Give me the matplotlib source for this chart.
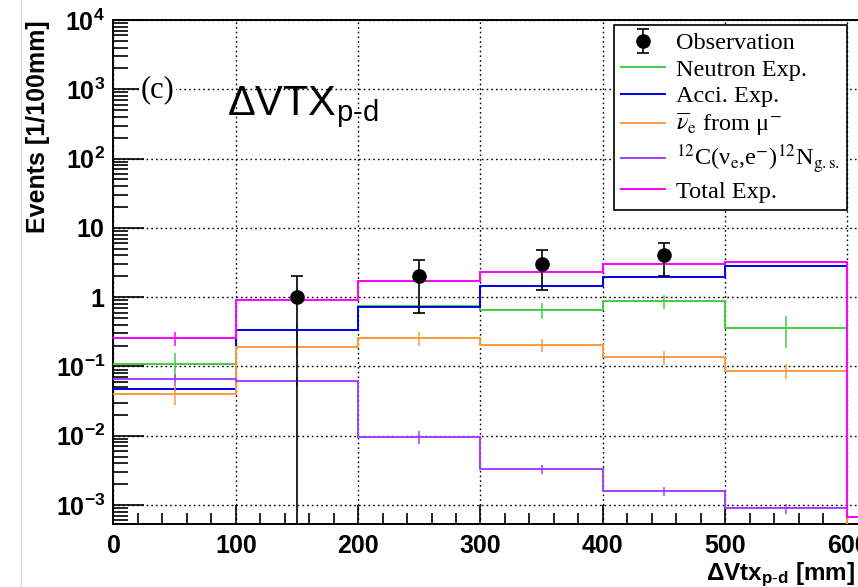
import numpy as np
import matplotlib
matplotlib.use("Agg")
import matplotlib.pyplot as plt
from matplotlib.lines import Line2D
from matplotlib.ticker import FixedLocator, FuncFormatter, MultipleLocator

plt.rcParams['mathtext.fontset'] = 'custom'
plt.rcParams['mathtext.rm'] = 'Liberation Sans'
plt.rcParams['mathtext.it'] = 'Liberation Sans:italic'
plt.rcParams['mathtext.bf'] = 'Liberation Sans:bold'

# ---------------- data ----------------
edges = [0, 100, 200, 300, 400, 500, 600]
edges_ext = [0, 100, 200, 300, 400, 500, 600, 700]

neutron = [0.108, 0.33, 0.74, 0.65, 0.885, 0.356]
neutron_err = [0.046, 0.09, 0.16, 0.17, 0.2, 0.17]
acci = [0.047, 0.33, 0.72, 1.43, 1.95, 2.78]
acci_err = [0.003, 0.01, 0.02, 0.03, 0.04, 0.05]
nue_mu = [0.040, 0.19, 0.255, 0.205, 0.137, 0.087, 0.0001]
nue_mu_err = [0.012, 0.047, 0.06, 0.045, 0.032, 0.021, 0.0]
c12 = [0.065, 0.062, 0.0095, 0.0033, 0.00159, 0.00089]
c12_err = [0.012, 0.009, 0.002, 0.0005, 0.00025, 0.00016]
total = [0.255, 0.905, 1.72, 2.27, 3.0, 3.24, 0.00066]
total_err = [0.055, 0.05, 0.06, 0.06, 0.05, 0.05, 0.0]

obs_x = [150, 250, 350, 450]
obs_y = [1, 2, 3, 4]
obs_err = [1.0, 1.41, 1.73, 2.0]

c_green = '#44cc44'
c_blue = '#0000ee'
c_orange = '#ff9a3c'
c_purple = '#a040ff'
c_magenta = '#ff00ff'

fig = plt.figure(figsize=(8.58, 5.87), dpi=100)
W, H = 858, 587
x0, x1 = 113.5, 113.5 + 620 * 1.2233
y_top, y_bot = 20, 524
ax = fig.add_axes([x0 / W, 1 - y_bot / H, (x1 - x0) / W, (y_bot - y_top) / H])

ax.set_yscale('log')
ax.set_xlim(0, 620)
ax.set_ylim(10 ** (-3 - (524 - 505) / 69.2), 1e4)

lw = 1.4
def hist(vals, errs, col, ed):
    ax.stairs(vals, ed, color=col, lw=lw, baseline=None, zorder=3)
    cen = [(ed[i] + ed[i + 1]) / 2 for i in range(len(vals))]
    ax.errorbar(cen, vals, yerr=errs, fmt='none', ecolor=col, elinewidth=1.1, zorder=3)

hist(neutron, neutron_err, c_green, edges)
hist(acci, acci_err, c_blue, edges)
hist(nue_mu, nue_mu_err, c_orange, edges_ext)
hist(c12, c12_err, c_purple, edges)
hist(total, total_err, c_magenta, edges_ext)

obs = ax.errorbar(obs_x, obs_y, yerr=obs_err, fmt='o', color='black', ms=9.5,
                  elinewidth=1.2, capsize=4, capthick=1.2, zorder=5)

# grid and ticks
ax.grid(True, which='major', color='black', linestyle=(0, (1.2, 2.2)), lw=1.0)
ax.xaxis.set_major_locator(MultipleLocator(100))
ax.xaxis.set_minor_locator(MultipleLocator(20))
ax.yaxis.set_major_locator(FixedLocator([1e-3, 1e-2, 1e-1, 1, 10, 100, 1e3, 1e4]))

def yfmt(v, pos):
    e = int(round(np.log10(v)))
    if e == 0:
        return r'$\mathbf{1}$'
    if e == 1:
        return r'$\mathbf{10}$'
    return r'$\mathbf{10^{%d}}$' % e

ax.yaxis.set_major_formatter(FuncFormatter(yfmt))
ax.tick_params(axis='both', which='both', direction='in', top=False, right=False,
               labelsize=18, width=1.2)
ax.tick_params(axis='y', which='major', length=22, pad=6)
ax.tick_params(axis='y', which='minor', length=11)
ax.tick_params(axis='x', which='major', length=14, pad=7)
ax.tick_params(axis='x', which='minor', length=8)
for lab in ax.get_xticklabels() + ax.get_yticklabels():
    lab.set_fontfamily('Liberation Sans')
    lab.set_fontweight('bold')
for s in ax.spines.values():
    s.set_linewidth(1.4)

ax.set_ylabel('Events [1/100mm]', fontsize=18, fontweight='bold',
              family='Liberation Sans', loc='top')
ax.yaxis.set_label_coords((38 - x0) / (x1 - x0), 1.0)
ax.yaxis.label.set_va('center')
ax.set_xlabel(r'$\mathbf{\Delta}$Vtx$_{\mathbf{p\text{-}d}}$ [mm]', fontsize=17.5,
              fontweight='bold', family='Liberation Sans')
ax.xaxis.set_label_coords((855 - x0) / (x1 - x0), -0.072)
ax.xaxis.label.set_ha('right')

ax.text(22, 1000, '(c)', family='Liberation Serif', fontsize=22, va='center', ha='left',
        bbox=dict(facecolor='white', edgecolor='none', pad=1), zorder=4)
ax.text(93, 427, r'$\Delta$VTX$_{\rm p\text{-}d}$', family='Liberation Sans',
        fontsize=30, va='baseline', ha='left')

# legend
handles = [obs,
           Line2D([], [], color=c_green, lw=lw),
           Line2D([], [], color=c_blue, lw=lw),
           Line2D([], [], color=c_orange, lw=lw),
           Line2D([], [], color=c_purple, lw=lw),
           Line2D([], [], color=c_magenta, lw=lw)]
labels = ['Observation', 'Neutron Exp.', 'Acci. Exp.',
          r'$\overline{\nu}_{\rm e}$ from μ$^{-}$',
          r'$^{12}$C(ν$_{\rm e}$,e$^{-}$)$^{12}$N$_{\rm g.s.}$',
          'Total Exp.']
leg = ax.legend(handles, labels, loc='upper left',
                bbox_to_anchor=(614 / W, 1 - 25 / H), bbox_transform=fig.transFigure,
                prop={'family': 'Liberation Serif', 'size': 17.5},
                frameon=True, fancybox=False, edgecolor='black', framealpha=1,
                handlelength=1.8, handletextpad=0.45, labelspacing=0.18,
                borderpad=0.3, borderaxespad=0)
leg.get_frame().set_linewidth(1.2)
for t in leg.get_texts():
    t.set_math_fontfamily('stix')

fig.add_artist(Line2D([21 / W, 21 / W], [0, 1], color='#d8d8d8', lw=1.0))

fig.savefig('out.png', dpi=100)
